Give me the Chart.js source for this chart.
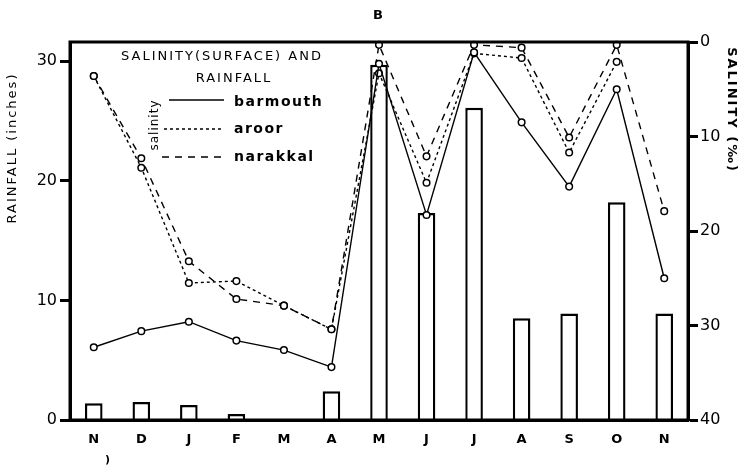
<!DOCTYPE html>
<html>
<head>
<meta charset="utf-8">
<script src="https://cdn.jsdelivr.net/npm/chart.js@4/dist/chart.umd.min.js"></script>
<style>
  html, body { margin: 0; padding: 0; background: #fff; }
  #wrap { width: 744px; height: 467px; }
</style>
</head>
<body>
<div id="wrap"><canvas id="chart"></canvas></div>
<script>
// months Nov -> Nov
var months = ["N", "D", "J", "F", "M", "A", "M", "J", "J", "A", "S", "O", "N"];

// rainfall in inches (bars, left axis)
var rainfall = [1.4, 1.5, 1.25, 0.5, 0, 2.4, 29.7, 17.3, 26.1, 8.5, 8.9, 18.2, 8.9];

// surface salinity (right axis, reversed)
var barmouth = [32.3, 30.6, 29.6, 31.6, 32.6, 34.4, 2.3, 18.3, 1.1, 8.5, 15.3, 5.0, 25.0];
var aroor    = [3.6, 13.3, 25.5, 25.3, 27.9, 30.4, 3.3, 14.9, 1.2, 1.7, 11.7, 2.1, null];
var narakkal = [3.6, 12.3, 23.2, 27.2, 27.9, 30.4, 0.3, 12.1, 0.3, 0.6, 10.1, 0.3, 17.9];

var leftTicks = [0, 10, 20, 30];
var rightTicks = [0, 10, 20, 30, 40];

var FONT = "'DejaVu Sans', sans-serif";

// titles, legend and other loose text
var textPlugin = {
    id: 'texts',
    afterDraw: function (chart) {
        var ctx = chart.ctx;
        var a = chart.chartArea;
        ctx.save();

        // frame
        ctx.strokeStyle = '#000';
        ctx.lineWidth = 3;
        ctx.strokeRect(a.left, a.top, a.right - a.left, a.bottom - a.top);

        ctx.fillStyle = '#000';
        ctx.textAlign = 'center';
        ctx.textBaseline = 'middle';

        ctx.font = 'bold 13px ' + FONT;
        ctx.fillText('B', 378, 16);

        // left axis title
        ctx.save();
        ctx.translate(13, 148);
        ctx.rotate(-Math.PI / 2);
        ctx.font = '13px ' + FONT;
        ctx.letterSpacing = '2px';
        ctx.fillText('RAINFALL (inches)', 0, 0);
        ctx.restore();

        // right axis title
        ctx.save();
        ctx.translate(731, 110);
        ctx.rotate(Math.PI / 2);
        ctx.font = 'bold 13px ' + FONT;
        ctx.letterSpacing = '2px';
        ctx.fillText('SALINITY (\u2030)', 0, 0);
        ctx.restore();

        // inset title
        ctx.font = '13px ' + FONT;
        ctx.letterSpacing = '2px';
        ctx.fillText('SALINITY(SURFACE) AND', 222, 57);
        ctx.fillText('RAINFALL', 234, 79);

        // legend
        ctx.letterSpacing = '1.5px';
        ctx.textAlign = 'left';
        ctx.font = 'bold 14px ' + FONT;
        ctx.fillText('barmouth', 234, 102);
        ctx.fillText('aroor', 234, 129);
        ctx.fillText('narakkal', 234, 157);

        ctx.lineWidth = 1.5;
        ctx.beginPath();
        ctx.moveTo(169, 100); ctx.lineTo(224, 100);
        ctx.stroke();
        ctx.setLineDash([3, 3]);
        ctx.beginPath();
        ctx.moveTo(164, 129); ctx.lineTo(224, 129);
        ctx.stroke();
        ctx.setLineDash([7, 6]);
        ctx.beginPath();
        ctx.moveTo(162, 157); ctx.lineTo(225, 157);
        ctx.stroke();
        ctx.setLineDash([]);

        ctx.save();
        ctx.translate(155, 125);
        ctx.rotate(-Math.PI / 2);
        ctx.textAlign = 'center';
        ctx.font = '12px ' + FONT;
        ctx.letterSpacing = '1px';
        ctx.fillText('salinity', 0, 0);
        ctx.restore();

        ctx.letterSpacing = '0px';
        ctx.font = 'bold 11px ' + FONT;
        ctx.fillText(')', 105, 460);
        ctx.restore();
    }
};

var lineStyle = {
    type: 'line',
    yAxisID: 'y1',
    borderColor: '#000',
    borderWidth: 1.4,
    tension: 0,
    pointRadius: 3.3,
    pointBorderWidth: 1.5,
    pointBorderColor: '#000',
    pointBackgroundColor: '#fff',
    clip: false,
    order: 0
};

var chart = new Chart(document.getElementById('chart'), {
    data: {
        labels: months,
        datasets: [
            Object.assign({}, lineStyle, { label: 'barmouth', data: barmouth }),
            Object.assign({}, lineStyle, { label: 'aroor', data: aroor, borderDash: [3, 3] }),
            Object.assign({}, lineStyle, { label: 'narakkal', data: narakkal, borderDash: [7, 6] }),
            {
                type: 'bar',
                label: 'rainfall',
                data: rainfall,
                yAxisID: 'y',
                backgroundColor: '#fff',
                borderColor: '#000',
                borderWidth: 2.4,
                barPercentage: 0.37,
                categoryPercentage: 1,
                order: 1
            }
        ]
    },
    options: {
        responsive: true,
        maintainAspectRatio: false,
        animation: false,
        layout: { padding: { top: 42, left: 0, right: 0, bottom: 0 } },
        plugins: {
            legend: { display: false },
            tooltip: { enabled: false }
        },
        scales: {
            x: {
                offset: true,
                grid: { display: false, drawTicks: false },
                border: { color: '#000', width: 3 },
                ticks: { color: '#000', font: { family: FONT, size: 13, weight: 'bold' }, padding: 12, maxRotation: 0 },
                afterFit: function (s) { s.height = 47; }
            },
            y: {
                position: 'left',
                min: 0,
                max: 31.6,
                afterBuildTicks: function (s) { s.ticks = leftTicks.map(function (v) { return { value: v }; }); },
                grid: { drawOnChartArea: false, tickLength: 10, tickWidth: 3, color: '#000' },
                border: { color: '#000', width: 3 },
                ticks: { color: '#000', font: { family: FONT, size: 16 }, padding: 3 },
                afterFit: function (s) { s.width = 70; }
            },
            y1: {
                position: 'right',
                reverse: true,
                min: 0,
                max: 40,
                afterBuildTicks: function (s) { s.ticks = rightTicks.map(function (v) { return { value: v }; }); },
                grid: { drawOnChartArea: false, tickLength: 10, tickWidth: 3, color: '#000' },
                border: { color: '#000', width: 3 },
                ticks: { color: '#000', font: { family: FONT, size: 16 }, padding: 2 },
                afterFit: function (s) { s.width = 56; }
            }
        }
    },
    plugins: [textPlugin]
});
</script>
</body>
</html>
